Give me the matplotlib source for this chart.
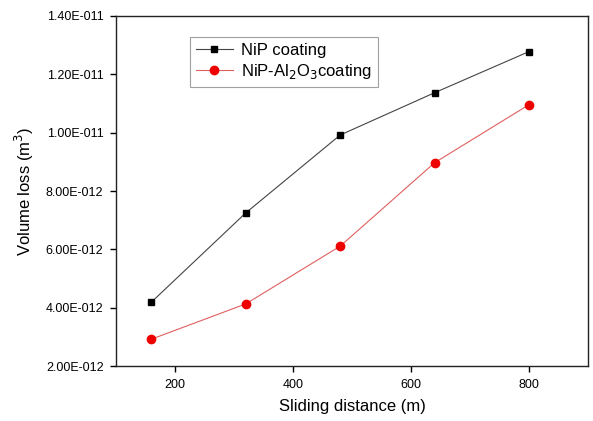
import matplotlib
matplotlib.use("Agg")
import matplotlib.pyplot as plt
from matplotlib.ticker import FixedLocator, FixedFormatter

plt.rcParams['font.family'] = ['Liberation Sans', 'DejaVu Sans']

distance = [160, 320, 480, 640, 800]
nip = [4.19e-12, 7.25e-12, 9.92e-12, 1.137e-11, 1.278e-11]
nip_al2o3 = [2.92e-12, 4.13e-12, 6.11e-12, 8.97e-12, 1.096e-11]

y_ticks = [2e-12, 4e-12, 6e-12, 8e-12, 1e-11, 1.2e-11, 1.4e-11]
y_labels = ["2.00E-012", "4.00E-012", "6.00E-012", "8.00E-012",
            "1.00E-011", "1.20E-011", "1.40E-011"]
x_ticks = [200, 400, 600, 800]

fig = plt.figure(figsize=(5.93, 4.21), dpi=100)
ax = fig.add_axes([0.1956, 0.1306, 0.796, 0.8314])

ax.plot(distance, nip, color='#444444', lw=0.8, marker='s', ms=5,
        mfc='black', mec='black', label='NiP coating')
ax.plot(distance, nip_al2o3, color='#e06060', lw=0.8, marker='o', ms=6,
        mfc='#ee0000', mec='#ee0000', label='NiP-Al$_2$O$_3$coating')

ax.set_xlim(100, 900)
ax.set_ylim(2e-12, 1.4e-11)
ax.xaxis.set_major_locator(FixedLocator(x_ticks))
ax.yaxis.set_major_locator(FixedLocator(y_ticks))
ax.yaxis.set_major_formatter(FixedFormatter(y_labels))
ax.tick_params(direction='out', length=4, width=1, labelsize=9, pad=5, colors='black')
for s in ax.spines.values():
    s.set_linewidth(1.0)
    s.set_color('#222222')

ax.set_xlabel('Sliding distance (m)', fontsize=12, labelpad=6)
ax.set_ylabel('Volume loss (m$^3$)', fontsize=12, labelpad=7)

leg = ax.legend(loc='upper left', bbox_to_anchor=(0.157, 0.94), borderaxespad=0,
                fontsize=12, fancybox=False, frameon=True, handlelength=2.2,
                borderpad=0.35, labelspacing=0.25, handletextpad=0.5)
leg.get_frame().set_edgecolor('#888888')
leg.get_frame().set_linewidth(0.8)

fig.savefig('out.png', dpi=100)
